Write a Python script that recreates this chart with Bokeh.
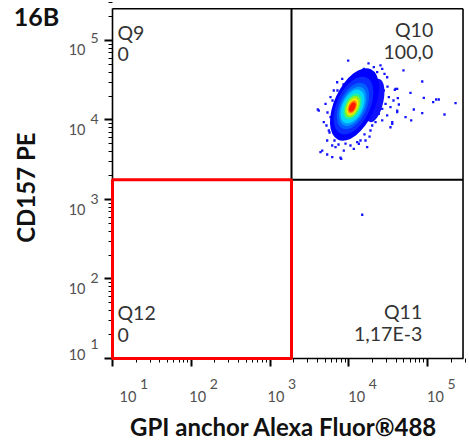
import math
from bokeh.plotting import figure
from bokeh.models import (FixedTicker, Label, LabelSet, ColumnDataSource, BoxAnnotation,
                          Range1d, CustomJSTickFormatter)
from bokeh.core.properties import value
from bokeh.embed import file_html
from bokeh.resources import INLINE

# ---------------- data (all positions in log10 of fluorescence) ----------------
x_lo, x_hi = 1.0, 5.451
y_lo, y_hi = 1.0, 5.40

tick_exp = [1, 2, 3, 4, 5]
tick_base = ["10", "10", "10", "10", "10"]
tick_sup = ["1", "2", "3", "4", "5"]

gate_log_x = 3.273
gate_log_y = 3.248

quad_names = ["Q9", "Q10", "Q11", "Q12"]
quad_values = ["0", "100,0", "1,17E-3", "0"]

# density contour levels of the event cloud (outer -> inner)
lvl_cx = [4.33, 4.073, 4.060, 4.054, 4.051, 4.048, 4.048, 4.048, 4.047, 4.045, 4.045]
lvl_cy = [4.245, 4.195, 4.182, 4.176, 4.172, 4.170, 4.170, 4.169, 4.167, 4.164, 4.164]
lvl_a = [0.28, 0.494, 0.392, 0.316, 0.266, 0.228, 0.177, 0.146, 0.114, 0.089, 0.063]
lvl_b = [0.11, 0.253, 0.209, 0.171, 0.146, 0.127, 0.101, 0.082, 0.063, 0.051, 0.035]
lvl_ang = [78, 65, 65, 65, 65, 65, 65, 65, 65, 65, 65]
lvl_color = ["#1010ff", "#0000ff", "#0a2cff", "#0060ff", "#0098ff", "#00d8ff",
             "#20f0a0", "#90f020", "#f8f000", "#ff8c00", "#ff1a00"]

# sparse events around the cloud (log10 x, log10 y)
evt_x = [3.993, 4.318, 4.425, 4.361, 4.454, 4.488, 4.191, 4.403, 4.251,
         4.340, 4.382, 4.445, 4.403, 4.509, 4.361, 4.467, 4.425, 4.530, 4.382,
         4.488, 4.425, 4.340, 4.298, 4.552, 4.530, 4.615, 4.302, 4.492, 4.568, 4.276,
         3.620, 3.705, 3.768, 3.683, 3.747, 3.726, 3.663, 3.790, 3.895,
         3.832, 3.937, 4.064, 4.107, 4.213, 4.022, 3.641, 3.726, 3.904, 3.790, 4.234, 4.128,
         3.853, 3.917, 3.810, 3.768, 3.607,
         4.695, 4.933, 4.615, 4.585, 4.784, 4.953, 4.623, 5.110, 5.143, 5.072, 5.356,
         4.636, 4.826, 4.933, 5.216, 4.721, 4.793, 4.552, 4.594, 4.615,
         3.819, 3.870, 3.959, 3.756, 3.717, 3.730, 3.794, 3.857, 3.933, 4.022,
         4.098, 4.175, 4.276, 4.149, 4.200, 4.264,
         4.171]
evt_y = [4.748, 4.664, 4.644, 4.601, 4.581, 4.538, 4.644, 4.686, 4.711,
         4.475, 4.413, 4.371, 4.308, 4.287, 4.245, 4.204, 4.141, 4.161, 4.078,
         4.057, 3.994, 3.972, 3.931, 3.972, 3.909, 4.098, 4.346, 4.421, 4.245, 3.868,
         4.119, 4.204, 4.035, 3.972, 3.868, 3.742, 3.616, 3.532, 3.525,
         3.658, 3.616, 3.638, 3.721, 3.742, 3.679, 3.595, 3.566, 3.512, 3.679, 3.658, 3.701,
         4.475, 4.518, 4.371, 4.287, 4.132,
         4.623, 4.484, 4.392, 4.380, 4.342, 4.279, 4.274, 4.258, 4.258, 4.224, 4.211,
         4.195, 4.132, 4.086, 4.069, 4.035, 3.994, 3.952, 4.392, 4.119,
         3.742, 3.692, 3.704, 3.843, 3.931, 4.094, 4.245, 4.371, 4.447, 4.522,
         4.560, 4.585, 4.572, 3.742, 3.818, 3.792,
         2.808]

# ---------------- figure ----------------
# the visible canvas spans a little more than the data box so that the
# axis texts can be drawn around it
view_x = (-0.4222, 5.5333)
view_y = (-0.0566, 5.5031)

p = figure(width=469, height=442,
           x_range=Range1d(*view_x), y_range=Range1d(*view_y),
           output_backend="svg", toolbar_location=None,
           min_border=0, min_border_left=0, min_border_right=0,
           min_border_top=0, min_border_bottom=0)
p.xgrid.visible = False
p.ygrid.visible = False
p.outline_line_color = None
p.background_fill_color = "white"
p.border_fill_color = "white"

minor = [math.log10(k * 10 ** n) for n in range(1, 6) for k in range(2, 10)]
blank = CustomJSTickFormatter(code="return ''")
p.xaxis[0].fixed_location = y_lo
p.xaxis[0].bounds = (x_lo, x_hi)
p.yaxis[0].fixed_location = x_lo
p.yaxis[0].bounds = (y_lo, y_hi)
for ax in (p.xaxis[0], p.yaxis[0]):
    ax.ticker = FixedTicker(ticks=tick_exp, minor_ticks=minor)
    ax.formatter = blank
    ax.major_tick_out = 8
    ax.major_tick_in = 0
    ax.major_tick_line_width = 2
    ax.minor_tick_out = 4
    ax.minor_tick_in = 0
    ax.minor_tick_line_width = 1
    ax.axis_line_width = 1.6
    ax.axis_line_color = "black"

# top and right edges of the data box
p.segment(x0=[x_lo, x_hi], y0=[y_hi, y_lo], x1=[x_hi, x_hi], y1=[y_hi, y_hi],
          line_color="black", line_width=1.6)

# events
p.scatter(evt_x, evt_y, marker="square", size=2.3, fill_color="#1414ff", line_color=None)

# density cloud
lvl_src = ColumnDataSource(dict(x=lvl_cx, y=lvl_cy, w=[2 * a for a in lvl_a],
                                h=[2 * b for b in lvl_b], ang=lvl_ang, c=lvl_color))
p.ellipse(x="x", y="y", width="w", height="h", angle="ang", angle_units="deg",
          fill_color="c", line_color=None, source=lvl_src)

# quadrant lines
p.segment(x0=[gate_log_x, gate_log_x], y0=[gate_log_y, gate_log_y],
          x1=[gate_log_x, x_hi], y1=[y_hi, gate_log_y], line_color="black", line_width=2)

# red gate
p.add_layout(BoxAnnotation(left=x_lo, right=gate_log_x, bottom=y_lo, top=gate_log_y,
                           fill_color=None, fill_alpha=0, line_color="red",
                           line_alpha=1.0, line_width=3))

# tick labels
lab_col = "#505050"
xs = ColumnDataSource(dict(x=tick_exp, y=[y_lo] * 5, base=tick_base, sup=tick_sup,
                           xo=[7, -2, -2.5, -0.5, -0.5], xo2=[27.5, 18.5, 18, 20, 20]))
p.add_layout(LabelSet(x="x", y="y", text="base", x_offset="xo", y_offset=-43.5, source=xs,
                      text_font=value("Lato"), text_font_size="14.5px", text_color=lab_col,
                      text_align="left", text_baseline="alphabetic"))
p.add_layout(LabelSet(x="x", y="y", text="sup", x_offset="xo2", y_offset=-30.5, source=xs,
                      text_font=value("Lato"), text_font_size="14px", text_color=lab_col,
                      text_align="left", text_baseline="alphabetic"))
ys = ColumnDataSource(dict(x=[x_lo] * 5, y=tick_exp, base=tick_base, sup=tick_sup,
                           yo=[-1.7, -15.5, -15.5, -15, -15], yo2=[9, -4.5, -4.5, -4, -3]))
p.add_layout(LabelSet(x="x", y="y", text="base", x_offset=-27, y_offset="yo", source=ys,
                      text_font=value("Lato"), text_font_size="14.5px", text_color=lab_col,
                      text_align="right", text_baseline="alphabetic"))
p.add_layout(LabelSet(x="x", y="y", text="sup", x_offset=-22, y_offset="yo2", source=ys,
                      text_font=value("Lato"), text_font_size="14px", text_color=lab_col,
                      text_align="left", text_baseline="alphabetic"))

# titles
p.add_layout(Label(x=x_lo, y=y_hi, x_offset=-98.7, y_offset=-7, text="16B",
                   text_font="Lato", text_font_style="bold", text_font_size="25px",
                   text_color="#111111", text_align="left", text_baseline="alphabetic"))
p.add_layout(Label(x=(x_lo + x_hi) / 2, y=y_lo, x_offset=-4, y_offset=-68.5,
                   text="GPI anchor Alexa Fluor®488",
                   text_font="Lato", text_font_style="bold", text_font_size="24px",
                   text_color="#111111", text_align="center", text_baseline="alphabetic"))
p.add_layout(Label(x=x_lo, y=(y_lo + y_hi) / 2, x_offset=-86.5, y_offset=-4, angle=math.pi / 2,
                   text="CD157 PE",
                   text_font="Lato", text_font_style="bold", text_font_size="24px",
                   text_color="#111111", text_align="center", text_baseline="alphabetic"))

# quadrant labels
qfont = dict(text_font="Lato", text_font_size="19.5px", text_color="#333333",
             text_baseline="alphabetic")
quad_anchor = {"Q9": (x_lo, y_hi, 5, -23.5, -45.5, "left"),
               "Q10": (x_hi, y_hi, -29.8, -21.3, -43.5, "right"),
               "Q11": (x_hi, y_lo, -40.8, 47.3, 24.8, "right"),
               "Q12": (x_lo, y_lo, 5, 46.3, 23.3, "left")}
for name, val in zip(quad_names, quad_values):
    ax_, ay_, xo, yo1, yo2, al = quad_anchor[name]
    p.add_layout(Label(x=ax_, y=ay_, x_offset=xo, y_offset=yo1, text=name, text_align=al, **qfont))
    p.add_layout(Label(x=ax_, y=ay_, x_offset=xo, y_offset=yo2, text=val, text_align=al, **qfont))

open("out.html", "w").write(file_html(p, INLINE))
